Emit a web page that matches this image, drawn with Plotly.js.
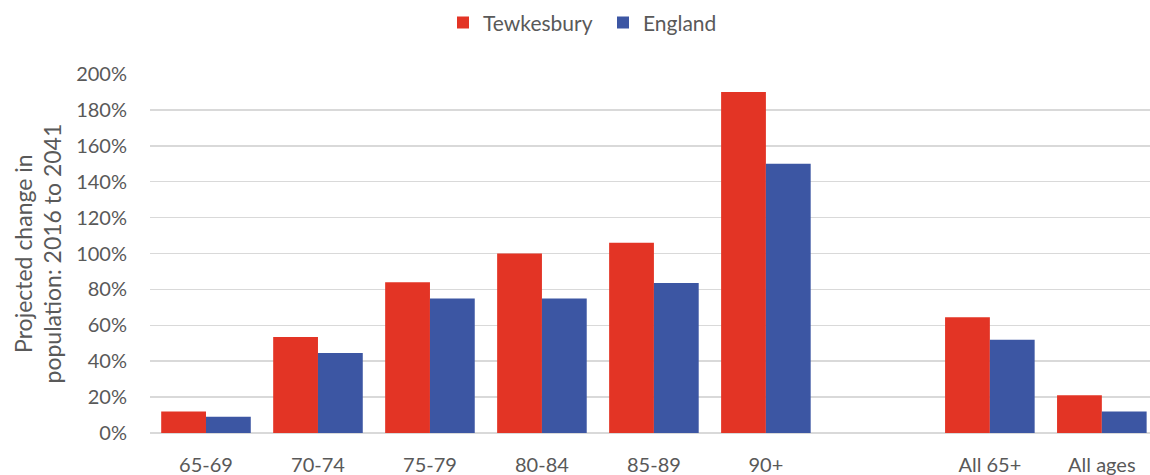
<!DOCTYPE html>
<html><head><meta charset="utf-8">
<script src="https://cdn.plot.ly/plotly-3.0.1.min.js"></script>
<style>body{margin:0;padding:0;background:#fff}#chart{width:1150px;height:475px}</style>
</head><body><div id="chart"></div>
<script>
const categories = ["65-69","70-74","75-79","80-84","85-89","90+"," ","All 65+","All ages"];
const tewkesbury = [0.12,0.535,0.84,1.00,1.06,1.90,null,0.645,0.21];
const england = [0.09,0.445,0.75,0.75,0.835,1.50,null,0.52,0.12];

const font = {family:"Lato, 'Open Sans', sans-serif", color:"#595959"};
const traces = [
  {type:"bar", name:"Tewkesbury", x:categories, y:tewkesbury, marker:{color:"#E33425"}},
  {type:"bar", name:"England", x:categories, y:england, marker:{color:"#3C56A3"}}
];
const layout = {
  width:1150, height:475,
  margin:{l:150, r:0, t:74, b:42},
  paper_bgcolor:"#fff", plot_bgcolor:"#fff",
  barmode:"group", bargap:0.2, bargroupgap:0,
  font:Object.assign({size:20}, font),
  showlegend:true,
  legend:{orientation:"h", x:0.453, xanchor:"center", y:0.995, yref:"container", yanchor:"top",
          font:Object.assign({size:21}, font), entrywidth:115, entrywidthmode:"pixels", traceorder:"normal"},
  xaxis:{type:"category", range:[-0.5, 8.43], showgrid:false, zeroline:false, showline:false,
         ticks:"outside", ticklen:14, tickcolor:"rgba(0,0,0,0)",
         tickfont:Object.assign({size:20}, font), automargin:false},
  yaxis:{range:[0,2], dtick:0.2, tickformat:".0%", showgrid:true, gridcolor:"#D9D9D9", gridwidth:1.5,
         zeroline:true, zerolinecolor:"#D9D9D9", zerolinewidth:1.5, showline:false,
         ticks:"outside", ticklen:18, tickcolor:"rgba(0,0,0,0)",
         tickfont:Object.assign({size:20}, font), automargin:false},
  annotations:[{text:"Projected change in<br>population: 2016 to 2041", textangle:-90,
                xref:"paper", yref:"paper", x:-0.113, y:0.5, xanchor:"center", yanchor:"middle",
                showarrow:false, font:Object.assign({size:23}, font)}]
};
Plotly.newPlot("chart", traces, layout, {displayModeBar:false, staticPlot:true});
</script></body></html>
